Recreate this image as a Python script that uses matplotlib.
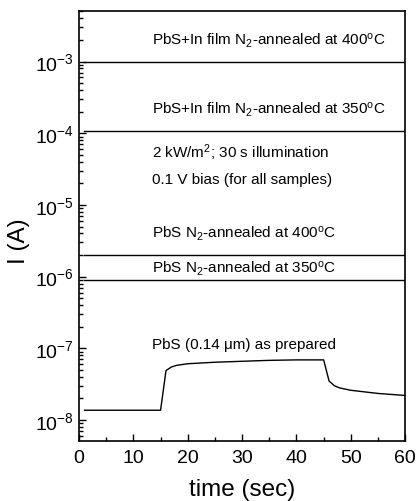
#!/usr/bin/env python

import matplotlib
matplotlib.use('Agg')
import matplotlib.pyplot as plt
from matplotlib.ticker import LogLocator, MultipleLocator, NullFormatter

# data
t_flat = [1, 60]
i_inf400 = [9.7e-4, 9.7e-4]
i_inf350 = [1.08e-4, 1.08e-4]
i_pbs400 = [2.0e-6, 2.0e-6]
i_pbs350 = [9.0e-7, 9.0e-7]

t_prep = [1, 5, 10, 15, 16, 17, 18, 20, 25, 30, 35, 40, 45, 46, 47, 48, 50, 55, 60]
i_prep = [1.37e-8, 1.37e-8, 1.37e-8, 1.37e-8, 4.9e-8, 5.5e-8, 5.8e-8, 6.1e-8,
          6.4e-8, 6.6e-8, 6.8e-8, 6.9e-8, 6.9e-8, 3.5e-8, 3.0e-8, 2.8e-8,
          2.6e-8, 2.35e-8, 2.2e-8]

labels = ['PbS+In film N$_2$-annealed at 400$^{\\mathrm{o}}$C',
          'PbS+In film N$_2$-annealed at 350$^{\\mathrm{o}}$C',
          '2 kW/m$^2$; 30 s illumination',
          '0.1 V bias (for all samples)',
          'PbS N$_2$-annealed at 400$^{\\mathrm{o}}$C',
          'PbS N$_2$-annealed at 350$^{\\mathrm{o}}$C',
          'PbS (0.14 \u03bcm) as prepared']
label_y = [0.933, 0.772, 0.672, 0.609, 0.484, 0.402, 0.226]


def main():
    plt.rcParams['font.family'] = ['Liberation Sans', 'DejaVu Sans']
    plt.rcParams['mathtext.fontset'] = 'custom'
    plt.rcParams['mathtext.rm'] = 'Liberation Sans'
    plt.rcParams['mathtext.it'] = 'Liberation Sans:italic'
    plt.rcParams['mathtext.bf'] = 'Liberation Sans:bold'

    fig = plt.figure(figsize=(4.16, 5.02), dpi=100)
    ax = fig.add_axes([0.19, 0.1195, 0.784, 0.857])

    for y in (i_inf400, i_inf350, i_pbs400, i_pbs350):
        ax.plot(t_flat, y, color='k', lw=1.0)
    ax.plot(t_prep, i_prep, color='k', lw=1.0)

    ax.set_yscale('log')
    ax.set_xlim(0, 60)
    ax.set_ylim(5.1e-9, 5.1e-3)

    ax.xaxis.set_major_locator(MultipleLocator(10))
    ax.xaxis.set_minor_locator(MultipleLocator(5))
    ax.yaxis.set_major_locator(LogLocator(base=10, numticks=20))
    ax.yaxis.set_minor_locator(LogLocator(base=10, subs=range(2, 10), numticks=20))
    ax.yaxis.set_minor_formatter(NullFormatter())

    ax.tick_params(which='both', direction='in', top=False, right=False,
                   labelsize=14, width=1.0)
    ax.tick_params(which='major', length=5)
    ax.tick_params(which='minor', length=3)
    ax.tick_params(axis='x', pad=6)
    for s in ax.spines.values():
        s.set_linewidth(1.2)

    for txt, yf in zip(labels, label_y):
        ax.text(13.5, yf, txt, fontsize=11, va='center', ha='left',
                transform=ax.get_xaxis_transform())

    ax.set_xlabel('time (sec)', fontsize=17.5)
    ax.set_ylabel('I (A)', fontsize=17.5)
    ax.xaxis.set_label_coords(0.5, -0.086)
    ax.yaxis.set_label_coords(-0.15, 0.467)

    fig.savefig('out.png', dpi=100)


if __name__ == '__main__':
    main()
